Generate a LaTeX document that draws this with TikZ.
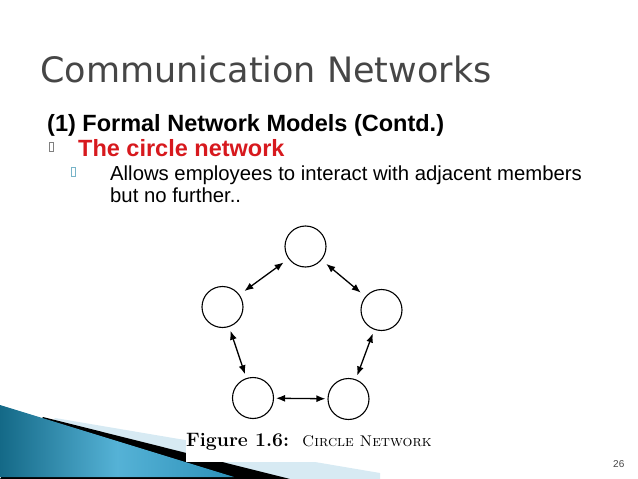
\documentclass[tikz,border=0pt]{standalone}
\usepackage{fontspec}
\newfontfamily\slidefont{Liberation Sans}
\newfontfamily\titlefont{DejaVu Sans}
\usetikzlibrary{arrows.meta,positioning}
\definecolor{titlegray}{RGB}{70,70,70}
\definecolor{headred}{RGB}{215,25,30}
\definecolor{bulletblue}{RGB}{120,180,200}
\definecolor{bandlight}{RGB}{215,234,243}
\definecolor{tealdark}{RGB}{20,105,135}
\definecolor{teallight}{RGB}{85,178,214}
\definecolor{tealmid}{RGB}{45,145,185}

\begin{document}
\begin{tikzpicture}[x = 1pt, y = -1pt,
    member/.style = {draw = black, circle, minimum size = 41pt, inner sep = 0pt, line width = 1.1pt},
    link/.style = {{Latex[length = 9pt, width = 7pt]}-{Latex[length = 9pt, width = 7pt]}, line width = 1.3pt, shorten <=6pt, shorten >=6pt},
    glyph/.style = {draw = #1, line width = 0.5pt, minimum width = 4pt, minimum height = 9pt, inner sep = 0pt},
    line/.style = {anchor = base west, inner sep = 0pt, font = \slidefont\fontsize{#1}{#1}\selectfont}]
  \useasboundingbox (0, 0) rectangle (638, 479);

  % footer band
  \fill [bandlight] (55, 418) -- (380, 473) -- (380, 479) -- (0, 479) -- cycle;
  \fill [black] (43, 417) -- (290, 479) -- (0, 479) -- cycle;
  \shade [left color = tealdark, right color = tealmid, middle color = teallight] (0, 405) -- (234, 477) -- (0, 477) -- cycle;
  \fill [white] (186, 425) rectangle (450, 462);

  \node [anchor = base west, inner sep = 0pt, text = titlegray, font = \titlefont\fontsize{35}{35}\selectfont] (title) at (40, 82) {Communication Networks};

  \node [line = 23.5] (model) at (47, 131) {\bfseries (1) Formal Network Models (Contd.)};
  \node [glyph = gray] (b1) at (51, 147) {};
  \node [line = 23.5, text = headred] (circ) at (78, 156) {\bfseries The circle network};
  \node [glyph = bulletblue] (b2) at (73, 172) {};
  \node [line = 20.3] (allow) at (110, 180) {Allows employees to interact with adjacent members};
  \node [line = 20.3] (further) at (110, 202) {but no further..};

  \node [member] (top) at (305.5, 246.5) {};
  \node [member] (left) at (222.5, 307) {};
  \node [member] (right) at (381.5, 310) {};
  \node [member] (bleft) at (253, 398) {};
  \node [member] (bright) at (348.5, 399) {};

  \draw [link] (top) -- (left);
  \draw [link] (top) -- (right);
  \draw [link, shorten <=4pt, shorten >=4pt] (left) -- (bleft);
  \draw [link, shorten <=4pt, shorten >=4pt] (right) -- (bright);
  \draw [link, shorten <=2pt, shorten >=2pt] (bleft) -- (bright);

  \node [anchor = base west, inner sep = 0pt, font = \fontsize{19.4}{19.4}\selectfont] (caption) at (186, 446) {\textbf{Figure 1.6:}\hspace{13pt}\fontsize{15.5}{15.5}\selectfont\textsc{Circle Network}};

  \node [line = 10, text = titlegray] (page) at (613, 467) {26};
\end{tikzpicture}
\end{document}
